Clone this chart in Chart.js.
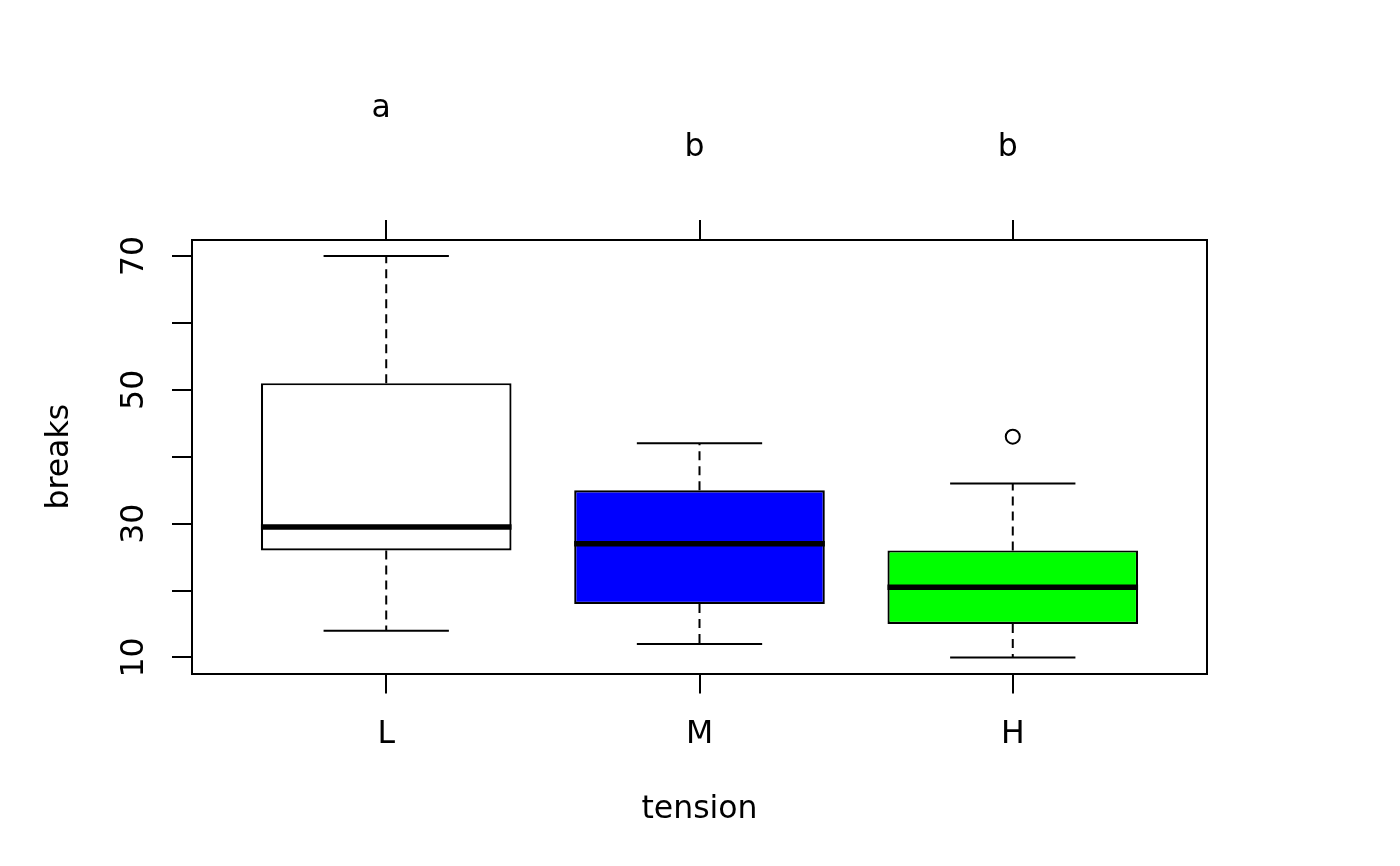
<!DOCTYPE html>
<html>
<head>
<meta charset="utf-8">
<script src="https://cdn.jsdelivr.net/npm/chart.js@4.4.1/dist/chart.umd.min.js"></script>
<style>
  html, body { margin: 0; padding: 0; background: #fff; }
  #wrap { width: 1400px; height: 866px; }
</style>
</head>
<body>
<div id="wrap"><canvas id="boxChart"></canvas></div>
<script>
// warpbreaks: breaks by tension
const categories = ["L", "M", "H"];
const boxColors = ["#ffffff", "#0000ff", "#00ff00"];
const whiskerLow = [14, 12, 10];
const q1 = [26, 18, 15];
const median = [29.5, 27, 20.5];
const q3 = [51, 35, 26];
const whiskerHigh = [70, 42, 36];
const outliers = [[], [], [43]];

// letters shown above each box, and their height in y units
const groupLetters = ["a", "b", "b"];
const letterY = [90.8, 85, 85];

const yTickValues = [10, 20, 30, 40, 50, 60, 70];
const yTickLabels = ["10", "", "30", "", "50", "", "70"];

const xMin = 0.38, xMax = 3.62;
const yMin = 7.6, yMax = 72.4;

const boxData = categories.map((c, i) => ({ x: i + 1, y: [q1[i], q3[i]] }));
const outlierData = [];
outliers.forEach((list, i) => list.forEach(v => outlierData.push({ x: i + 1, y: v })));

const categoryTicks = scale => { scale.ticks = categories.map((c, i) => ({ value: i + 1 })); };

// whiskers, caps, medians and the group letters
const boxExtras = {
  id: "boxExtras",
  afterDatasetsDraw(chart) {
    const ctx = chart.ctx;
    const xs = chart.scales.x, ys = chart.scales.y;
    const bars = chart.getDatasetMeta(0).data;
    ctx.save();
    ctx.strokeStyle = "#000";
    categories.forEach((c, i) => {
      const cx = xs.getPixelForValue(i + 1);
      const half = bars[i].width / 2;
      const cap = bars[i].width / 4;

      ctx.lineWidth = 2;
      ctx.setLineDash([9, 6]);
      ctx.beginPath();
      ctx.moveTo(cx, ys.getPixelForValue(q3[i]));
      ctx.lineTo(cx, ys.getPixelForValue(whiskerHigh[i]));
      ctx.moveTo(cx, ys.getPixelForValue(q1[i]));
      ctx.lineTo(cx, ys.getPixelForValue(whiskerLow[i]));
      ctx.stroke();

      ctx.setLineDash([]);
      ctx.beginPath();
      [whiskerHigh[i], whiskerLow[i]].forEach(v => {
        const py = ys.getPixelForValue(v);
        ctx.moveTo(cx - cap, py);
        ctx.lineTo(cx + cap, py);
      });
      ctx.stroke();

      ctx.lineWidth = 5.5;
      ctx.beginPath();
      const my = ys.getPixelForValue(median[i]);
      ctx.moveTo(cx - half, my);
      ctx.lineTo(cx + half, my);
      ctx.stroke();
    });

    ctx.fillStyle = "#000";
    ctx.font = "31.5px 'DejaVu Sans'";
    ctx.textAlign = "center";
    ctx.textBaseline = "alphabetic";
    groupLetters.forEach((t, i) => {
      ctx.fillText(t, xs.getPixelForValue(i + 1) - 5, ys.getPixelForValue(letterY[i]));
    });
    ctx.restore();
  }
};

Chart.defaults.font.family = "'DejaVu Sans'";
Chart.defaults.font.size = 31.5;
Chart.defaults.color = "#000";

const axisGrid = { drawOnChartArea: false, drawTicks: true, tickLength: 20, color: "#000", lineWidth: 2, offset: false };
const axisBorder = { display: true, color: "#000", width: 2 };

new Chart(document.getElementById("boxChart"), {
  type: "bar",
  data: {
    datasets: [
      {
        data: boxData,
        backgroundColor: boxColors,
        borderColor: "#000",
        borderWidth: 2.2,
        borderSkipped: false,
        categoryPercentage: 0.8,
        barPercentage: 1
      },
      {
        type: "scatter",
        data: outlierData,
        pointStyle: "circle",
        radius: 7,
        borderWidth: 2,
        borderColor: "#000",
        backgroundColor: "rgba(0,0,0,0)"
      }
    ]
  },
  options: {
    responsive: true,
    maintainAspectRatio: false,
    animation: false,
    layout: { padding: 0 },
    plugins: { legend: { display: false }, tooltip: { enabled: false } },
    scales: {
      x: {
        type: "linear",
        position: "bottom",
        offset: false,
        min: xMin, max: xMax,
        afterBuildTicks: categoryTicks,
        afterFit: s => { s.height = 192.5; },
        grid: axisGrid,
        border: axisBorder,
        ticks: { padding: 22, maxRotation: 0, autoSkip: false, callback: v => categories[v - 1] },
        title: { display: true, text: "tension", padding: { top: 0, bottom: 37 } }
      },
      x2: {
        type: "linear",
        position: "top",
        offset: false,
        min: xMin, max: xMax,
        afterBuildTicks: categoryTicks,
        afterFit: s => { s.height = 240; },
        grid: axisGrid,
        border: axisBorder,
        ticks: { display: false }
      },
      y: {
        type: "linear",
        position: "left",
        min: yMin, max: yMax,
        afterBuildTicks: s => { s.ticks = yTickValues.map(v => ({ value: v })); },
        afterFit: s => { s.width = 192; },
        grid: axisGrid,
        border: axisBorder,
        ticks: {
          padding: 17, autoSkip: false, minRotation: 90, maxRotation: 90, crossAlign: "center",
          callback: (v, i) => yTickLabels[i]
        },
        title: { display: true, text: "breaks", padding: { top: 41, bottom: 0 } }
      },
      y2: {
        type: "linear",
        position: "right",
        min: yMin, max: yMax,
        afterFit: s => { s.width = 193; },
        grid: { display: false },
        border: axisBorder,
        ticks: { display: false }
      }
    }
  },
  plugins: [boxExtras]
});
</script>
</body>
</html>
